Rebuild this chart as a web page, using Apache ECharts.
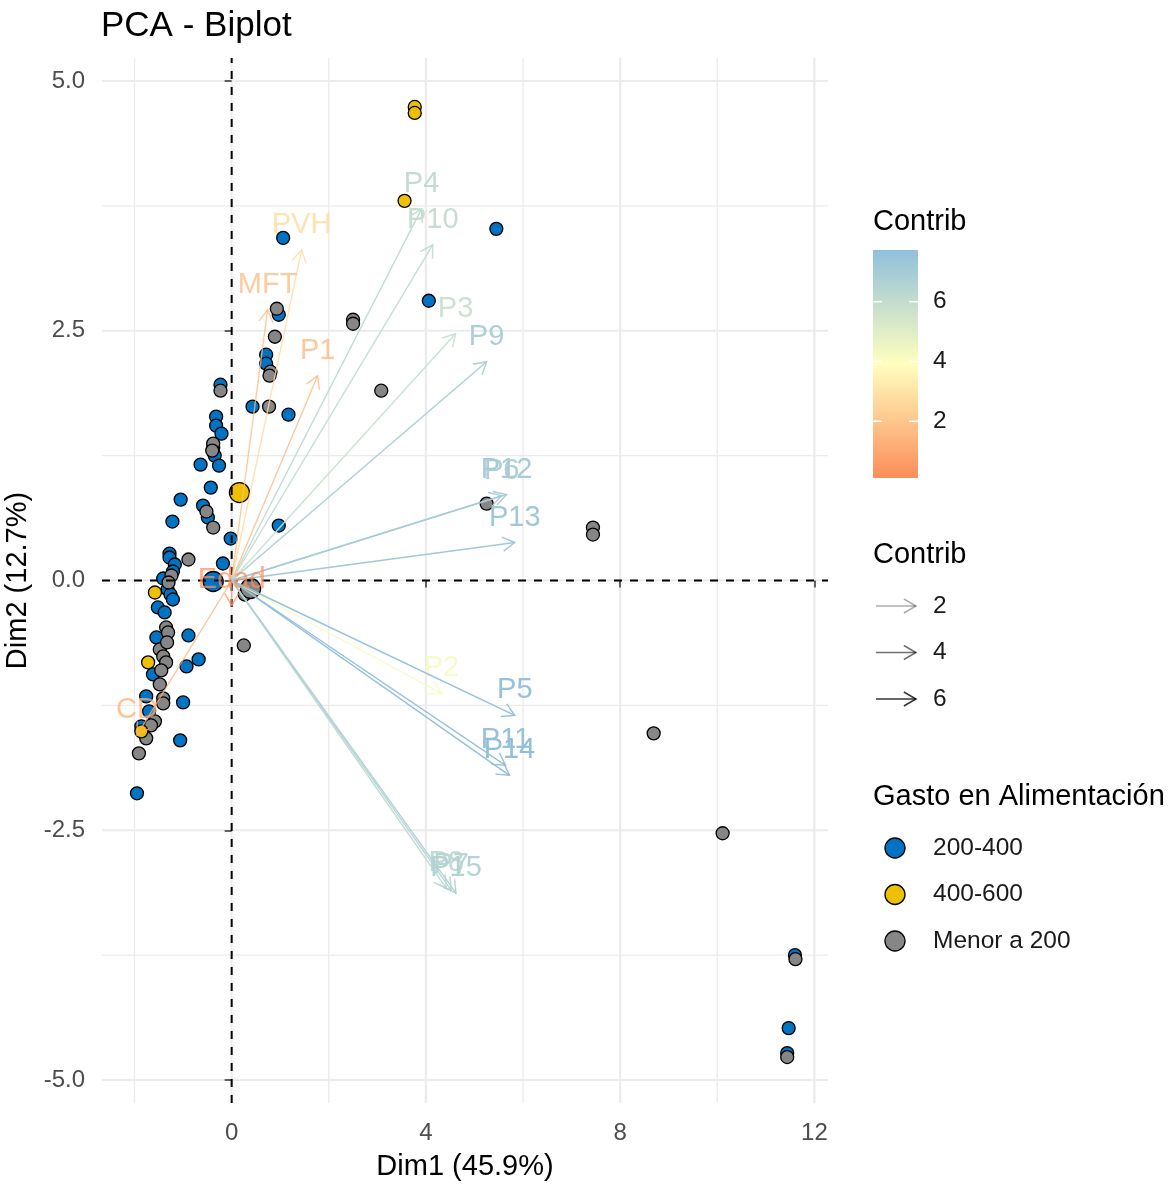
<!DOCTYPE html>
<html><head><meta charset="utf-8">
<script src="https://cdn.jsdelivr.net/npm/echarts@6/dist/echarts.min.js"></script>
<style>html,body{margin:0;padding:0;background:#fff;} #chart{width:1173px;height:1185px;}</style>
</head><body><div id="chart"></div>
<script>
// ---------- data ----------
const xTicks = [0, 4, 8, 12];
const yTicks = [-5, -2.5, 0, 2.5, 5];
const xMinorGrid = [-2, 2, 6, 10];
const yMinorGrid = [-3.75, -1.25, 1.25, 3.75];
const X_MIN = -2.67, X_MAX = 12.28, Y_MIN = -5.23, Y_MAX = 5.23;

const varNames   = ['PVH','MFT','P1','P4','P10','P3','P9','P6','P12','P13','P2','P5','P11','P14','P8','P7','P15','CD','Edad'];
const varX       = [1.44, 0.74, 1.77, 3.91, 4.14, 4.61, 5.25, 5.56, 5.66, 5.83, 4.32, 5.83, 5.64, 5.72, 4.42, 4.52, 4.62, -1.95, 0.00];
const varY       = [3.31, 2.71, 2.05, 3.72, 3.36, 2.47, 2.19, 0.85, 0.86, 0.38, -1.13, -1.35, -1.85, -1.95, -3.08, -3.10, -3.13, -1.55, -0.25];
const varContrib = [2.76, 1.67, 1.55, 6.17, 6.02, 5.81, 6.87, 6.90, 7.00, 7.23, 4.22, 7.59, 7.54, 7.73, 6.17, 6.45, 6.65, 1.31, 0.10];

const groupNames  = ['200-400', '400-600', 'Menor a 200'];
const groupColors = ['#0073C2', '#EFC000', '#868686'];

const pts200_400 = [[1.06,3.43],[4.06,2.80],[5.45,3.52],[0.97,2.66],[0.71,2.26],[0.71,2.17],[-0.23,1.96],[0.43,1.74],[1.17,1.66],
  [-0.32,1.64],[-0.32,1.55],[-0.21,1.47],[-0.38,1.33],[-0.35,1.25],[-0.64,1.16],[-0.26,1.15],[-0.43,0.93],[-1.05,0.81],
  [-0.59,0.75],[-0.49,0.63],[-1.22,0.59],[0.97,0.55],[-0.02,0.42],[-1.28,0.27],[-1.28,0.23],[-1.17,0.16],[-0.18,0.17],
  [-1.21,0.09],[-1.41,0.02],[-1.32,-0.09],[-1.26,-0.14],[-1.21,-0.19],[-1.52,-0.27],[-1.38,-0.32],[-1.55,-0.57],[-0.89,-0.55],
  [-0.68,-0.79],[-0.93,-0.86],[-1.62,-0.94],[-1.00,-1.22],[-1.76,-1.16],[-1.70,-1.31],[-1.86,-1.46],[-1.06,-1.60],[-1.95,-2.13],
  [11.60,-3.75],[11.47,-4.48],[11.44,-4.73]];
const pts400_600 = [[3.77,4.74],[3.77,4.68],[3.56,3.80],[-1.58,-0.12],[-1.72,-0.82],[-1.86,-1.51]];
const ptsMenor200 = [[2.50,2.61],[2.50,2.57],[0.93,2.72],[0.89,2.44],[0.80,2.09],[0.78,2.05],[3.08,1.90],[-0.23,1.90],[0.77,1.74],
  [-0.38,1.37],[-0.40,1.30],[-0.52,0.69],[-0.38,0.53],[-0.89,0.21],[-1.24,0.05],[-1.30,-0.02],[0.27,-0.14],[-1.35,-0.47],
  [-1.31,-0.52],[0.25,-0.65],[-1.48,-0.69],[-1.41,-0.76],[-1.35,-0.82],[-1.48,-1.04],[-1.41,-1.18],[-1.41,-1.23],[-1.58,-1.41],
  [-1.76,-1.58],[-1.91,-1.73],[5.25,0.77],[7.44,0.53],[7.44,0.46],[8.69,-1.53],[10.11,-2.53],[11.61,-3.79],[11.44,-4.77],
  [-1.33,-0.62],[-1.45,-0.90],[-1.66,-1.45]];
const meanX = [-0.38, 0.16, 0.39];
const meanY = [-0.01, 0.88, -0.08];

const alphaLegendValues = [2, 4, 6];
const colorbarTicks = [2, 4, 6];

// ---------- helpers ----------
const FONT = '"Liberation Sans", Arial, sans-serif';
const cMin = Math.min(...varContrib), cMax = Math.max(...varContrib);
const gradStops = [[252,141,89],[255,255,191],[145,191,219]];
function tOf(c){ return (c - cMin) / (cMax - cMin); }
function contribRGB(c){
  const t = Math.max(0, Math.min(1, tOf(c)));
  let a, b, u;
  if (t <= 0.5) { a = gradStops[0]; b = gradStops[1]; u = t / 0.5; }
  else { a = gradStops[1]; b = gradStops[2]; u = (t - 0.5) / 0.5; }
  return [0,1,2].map(k => Math.round(a[k] + (b[k]-a[k]) * u));
}
function legendAlpha(c){ return 0.1 + 0.9 * Math.max(0, Math.min(1, tOf(c))); }
function plotAlpha(c){ return 0.72 + 0.28 * Math.max(0, Math.min(1, tOf(c))); }
function rgba(rgb, a){ return 'rgba(' + rgb[0] + ',' + rgb[1] + ',' + rgb[2] + ',' + a.toFixed(3) + ')'; }

function arrowHead(px, py, ang, L){
  const h = Math.PI / 6;
  return [[px - L*Math.cos(ang - h), py - L*Math.sin(ang - h)], [px, py], [px - L*Math.cos(ang + h), py - L*Math.sin(ang + h)]];
}

// ---------- grid lines data ----------
const gridData = [];
xTicks.forEach(v => gridData.push([v, 0, 1]));
xMinorGrid.forEach(v => gridData.push([v, 0, 0]));
yTicks.forEach(v => gridData.push([0, v, 3]));
yMinorGrid.forEach(v => gridData.push([0, v, 2]));

const chart = echarts.init(document.getElementById('chart'), null, {renderer: 'canvas'});

function pointSeries(name, pts, color){
  return {
    name: name, type: 'scatter', data: pts, z: 3,
    symbol: 'circle', symbolSize: 13,
    itemStyle: {color: color, borderColor: '#000', borderWidth: 1.3, opacity: 1},
    emphasis: {disabled: true}, silent: true
  };
}

// legend graphics
const legendGraphics = [];
const LX = 873;
const titleFont = '29px ' + FONT, textFont = '24.5px ' + FONT;
legendGraphics.push({type:'text', x: LX, y: 222, style:{text:'Contrib', font: titleFont, fill:'#000', verticalAlign:'middle', textVerticalAlign:'middle'}});
const barTop = 250, barBot = 478, barW = 45;
legendGraphics.push({type:'rect', shape:{x: LX, y: barTop, width: barW, height: barBot - barTop},
  style:{fill: {type:'linear', x:0, y:1, x2:0, y2:0, colorStops:[
    {offset:0, color:'rgb(252,141,89)'},{offset:0.5, color:'rgb(255,255,191)'},{offset:1, color:'rgb(145,191,219)'}]}}});
colorbarTicks.forEach(v => {
  const yy = barBot - tOf(v) * (barBot - barTop);
  legendGraphics.push({type:'line', shape:{x1:LX, y1:yy, x2:LX+9, y2:yy}, style:{stroke:'#fff', lineWidth:1.5}});
  legendGraphics.push({type:'line', shape:{x1:LX+barW-9, y1:yy, x2:LX+barW, y2:yy}, style:{stroke:'#fff', lineWidth:1.5}});
  legendGraphics.push({type:'text', x: 933, y: yy, style:{text:String(v), font: textFont, fill:'#1a1a1a', verticalAlign:'middle', textVerticalAlign:'middle'}});
});
legendGraphics.push({type:'text', x: LX, y: 555, style:{text:'Contrib', font: titleFont, fill:'#000', verticalAlign:'middle', textVerticalAlign:'middle'}});
alphaLegendValues.forEach((v, i) => {
  const yy = 606 + 46.5 * i;
  const a = legendAlpha(v);
  const col = 'rgba(0,0,0,' + a.toFixed(3) + ')';
  legendGraphics.push({type:'line', shape:{x1:876, y1:yy, x2:916, y2:yy}, style:{stroke:col, lineWidth:1.5}});
  legendGraphics.push({type:'polyline', shape:{points: arrowHead(916, yy, 0, 14)}, style:{stroke:col, lineWidth:1.5, fill:null}});
  legendGraphics.push({type:'text', x: 933, y: yy, style:{text:String(v), font: textFont, fill:'#1a1a1a', verticalAlign:'middle', textVerticalAlign:'middle'}});
});
legendGraphics.push({type:'text', x: LX, y: 797, style:{text:'Gasto en Alimentación', font: titleFont, fill:'#000', verticalAlign:'middle', textVerticalAlign:'middle'}});
groupNames.forEach((g, i) => {
  const yy = 848 + 46.5 * i;
  legendGraphics.push({type:'circle', shape:{cx: 895, cy: yy, r: 10}, style:{fill: groupColors[i], stroke:'#000', lineWidth:1.3}});
  legendGraphics.push({type:'text', x: 933, y: yy, style:{text:g, font: textFont, fill:'#1a1a1a', verticalAlign:'middle', textVerticalAlign:'middle'}});
});

const option = {
  animation: false,
  backgroundColor: '#fff',
  title: {text: 'PCA - Biplot', left: 101, top: 9, padding: 0,
    textStyle: {fontFamily: FONT, fontSize: 35, fontWeight: 'normal', color: '#000'}},
  grid: {left: 102, right: 345, top: 58, bottom: 82, containLabel: false, outerBoundsMode: 'none'},
  xAxis: {
    type: 'value', min: X_MIN, max: X_MAX,
    name: 'Dim1 (45.9%)', nameLocation: 'middle', nameGap: 49,
    nameTextStyle: {fontFamily: FONT, fontSize: 29, color: '#000'},
    axisLine: {show: false},
    axisTick: {show: true, customValues: xTicks, length: 7, lineStyle: {color: '#333', width: 1.5}},
    axisLabel: {show: true, customValues: xTicks, margin: 18, fontFamily: FONT, fontSize: 24, color: '#4D4D4D',
      formatter: v => String(v)},
    splitLine: {show: false}
  },
  yAxis: {
    type: 'value', min: Y_MIN, max: Y_MAX,
    name: 'Dim2 (12.7%)', nameLocation: 'middle', nameGap: 60,
    nameTextStyle: {fontFamily: FONT, fontSize: 29, color: '#000'},
    axisLine: {show: false},
    axisTick: {show: true, customValues: yTicks, length: 7, lineStyle: {color: '#333', width: 1.5}},
    axisLabel: {show: true, customValues: yTicks, margin: 17, fontFamily: FONT, fontSize: 24, color: '#4D4D4D',
      formatter: v => Number(v).toFixed(1)},
    splitLine: {show: false}
  },
  graphic: legendGraphics,
  series: [
    {
      name: 'grid', type: 'custom', z: 0, silent: true, data: gridData,
      renderItem: function(params, api){
        const kind = api.value(2);
        let p0, p1;
        if (kind < 2) { const v = api.value(0); p0 = api.coord([v, Y_MIN]); p1 = api.coord([v, Y_MAX]); }
        else { const v = api.value(1); p0 = api.coord([X_MIN, v]); p1 = api.coord([X_MAX, v]); }
        const major = (kind === 1 || kind === 3);
        return {type:'line', shape:{x1:p0[0], y1:p0[1], x2:p1[0], y2:p1[1]},
          style:{stroke: '#EBEBEB', lineWidth: major ? 2.2 : 1.3}};
      }
    },
    pointSeries(groupNames[0], pts200_400, groupColors[0]),
    pointSeries(groupNames[2], ptsMenor200, groupColors[2]),
    pointSeries(groupNames[1], pts400_600, groupColors[1]),
    {
      name: 'means', type: 'scatter', z: 4, silent: true,
      data: meanX.map((x, i) => ({value: [x, meanY[i]], itemStyle: {color: groupColors[i], opacity: 1}})),
      symbol: 'circle', symbolSize: 20,
      itemStyle: {borderColor: '#000', borderWidth: 1.3, opacity: 1}
    },
    {
      name: 'zero', type: 'custom', z: 5, silent: true, data: [[0, 0, 0], [0, 0, 2]],
      renderItem: function(params, api){
        const kind = api.value(2);
        let p0, p1;
        if (kind < 2) { p0 = api.coord([0, Y_MIN]); p1 = api.coord([0, Y_MAX]); }
        else { p0 = api.coord([X_MIN, 0]); p1 = api.coord([X_MAX, 0]); }
        return {type:'line', shape:{x1:p0[0], y1:p0[1], x2:p1[0], y2:p1[1]},
          style:{stroke:'#000', lineWidth: 2, lineDash: [8, 8]}};
      }
    },
    {
      name: 'variables', type: 'custom', z: 6, silent: true,
      data: varNames.map((n, i) => [varX[i], varY[i], varContrib[i]]),
      renderItem: function(params, api){
        const x = api.value(0), y = api.value(1), c = api.value(2);
        const name = varNames[params.dataIndex];
        const p0 = api.coord([0, 0]);
        const p1 = api.coord([x, y]);
        const col = rgba(contribRGB(c), plotAlpha(c));
        const ang = Math.atan2(p1[1] - p0[1], p1[0] - p0[0]);
        return {type:'group', children:[
          {type:'line', shape:{x1:p0[0], y1:p0[1], x2:p1[0], y2:p1[1]}, style:{stroke: col, lineWidth: 1.4}},
          {type:'polyline', shape:{points: arrowHead(p1[0], p1[1], ang, 14)}, style:{stroke: col, lineWidth: 1.4, fill: null}},
          {type:'text', x: p1[0], y: p1[1] - 25, style:{text: name, fill: col, font: '29px ' + FONT,
            align: 'center', verticalAlign: 'middle', textAlign: 'center', textVerticalAlign: 'middle'}}
        ]};
      }
    }
  ]
};
chart.setOption(option);
</script>
</body></html>
